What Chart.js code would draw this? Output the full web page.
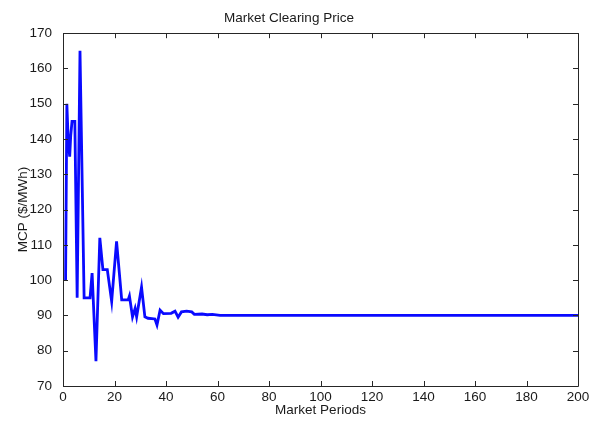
<!DOCTYPE html>
<html>
<head>
<meta charset="utf-8">
<script src="https://cdn.jsdelivr.net/npm/chart.js@4/dist/chart.umd.min.js"></script>
<style>
html,body{margin:0;padding:0;background:#fff;}
#wrap{width:599px;height:422px;}
</style>
</head>
<body>
<div id="wrap"><canvas id="c" width="599" height="422"></canvas></div>
<script>
// Market period (x) at each breakpoint of the line, and the clearing price there
const periods = [1, 1.5, 2, 2.6, 3, 3.5, 4.6, 5.5, 6.6, 8.2, 10.5, 11.3, 12.8, 14.3, 15.5, 17.2, 18.9, 20.8, 22.8, 25.3, 25.8, 27, 28, 28.6, 30.5, 31.8, 33, 35.7, 36.5, 37.7, 39, 42, 43.5, 44.7, 46, 48, 50, 51, 54, 56, 58, 61, 200];
const prices  = [100, 150, 140, 135, 141, 145, 145, 95, 165, 95, 95, 102, 77, 112, 103, 103, 94, 111, 94.4, 94.4, 95.5, 89.6, 92, 89.6, 98, 89.6, 89.2, 89, 87.3, 91.5, 90.5, 90.6, 91.2, 89.5, 91, 91.2, 91, 90.3, 90.4, 90.2, 90.3, 90, 90];
const xTicks = [0, 20, 40, 60, 80, 100, 120, 140, 160, 180, 200];
const yTicks = [70, 80, 90, 100, 110, 120, 130, 140, 150, 160, 170];
const titleText = 'Market Clearing Price';
const xTitle = 'Market Periods';
const yTitle = 'MCP ($/MWh)';

const FONT = 'Arial, "Liberation Sans", Helvetica, sans-serif';
const AXIS_COLOR = '#262626';

const boxPlugin = {
  id: 'matlabBox',
  afterDraw(chart) {
    const {ctx, chartArea: a, scales: {x, y}} = chart;
    ctx.save();
    ctx.strokeStyle = AXIS_COLOR;
    ctx.lineWidth = 1;
    ctx.beginPath();
    ctx.rect(Math.round(a.left) + 0.5, Math.round(a.top) + 0.5, Math.round(a.right - a.left), Math.round(a.bottom - a.top));
    ctx.stroke();
    const L = 5;
    ctx.beginPath();
    xTicks.forEach(v => {
      const px = Math.round(x.getPixelForValue(v)) + 0.5;
      ctx.moveTo(px, a.bottom); ctx.lineTo(px, a.bottom - L);
      ctx.moveTo(px, a.top); ctx.lineTo(px, a.top + L);
    });
    yTicks.forEach(v => {
      const py = Math.round(y.getPixelForValue(v)) + 0.5;
      ctx.moveTo(a.left, py); ctx.lineTo(a.left + L, py);
      ctx.moveTo(a.right, py); ctx.lineTo(a.right - L, py);
    });
    ctx.stroke();
    ctx.restore();
  }
};

new Chart(document.getElementById('c'), {
  type: 'line',
  data: {
    datasets: [{
      data: periods.map((p, i) => ({x: p, y: prices[i]})),
      borderColor: '#0a0aff',
      borderWidth: 2.8,
      pointRadius: 0,
      tension: 0,
      fill: false
    }]
  },
  options: {
    responsive: false,
    animation: false,
    devicePixelRatio: 1,
    layout: {padding: {left: 0, right: 21, top: 0, bottom: 0}},
    plugins: {
      legend: {display: false},
      tooltip: {enabled: false},
      title: {
        display: true,
        text: titleText,
        color: '#1a1a1a',
        font: {family: FONT, size: 13.5, weight: 'normal'},
        padding: {top: 10, bottom: 7}
      }
    },
    scales: {
      x: {
        type: 'linear',
        min: 0, max: 200,
        afterBuildTicks(s) { s.ticks = xTicks.map(v => ({value: v})); },
        afterFit(s) { s.height = 36; },
        grid: {display: false, drawTicks: false},
        border: {display: false},
        ticks: {color: '#1a1a1a', font: {family: FONT, size: 13.5}, padding: 3, maxRotation: 0, autoSkip: false},
        title: {display: true, text: xTitle, color: '#1a1a1a', font: {family: FONT, size: 13.5}, padding: {top: 0, bottom: 4}}
      },
      y: {
        type: 'linear',
        min: 70, max: 170,
        afterBuildTicks(s) { s.ticks = yTicks.map(v => ({value: v})); },
        afterFit(s) { s.width = 63; },
        grid: {display: false, drawTicks: false},
        border: {display: false},
        ticks: {color: '#1a1a1a', font: {family: FONT, size: 13.5}, padding: 11, autoSkip: false},
        title: {display: true, text: yTitle, color: '#1a1a1a', font: {family: FONT, size: 13.5}, padding: {top: 15, bottom: 0}}
      }
    }
  },
  plugins: [boxPlugin]
});
</script>
</body>
</html>
